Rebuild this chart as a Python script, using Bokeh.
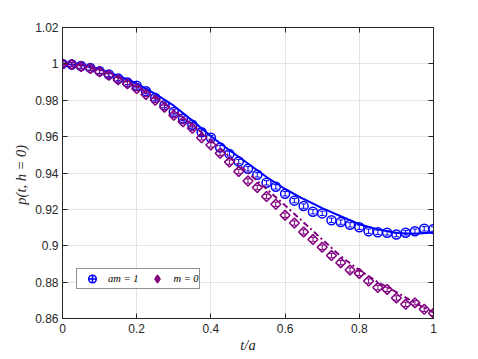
import math
from bokeh.plotting import figure
from bokeh.models import (ColumnDataSource, Range1d, LinearAxis, FixedTicker,
                          CustomJSTickFormatter, Legend, LegendItem)
from bokeh.embed import file_html
from bokeh.resources import INLINE

# ---- data -------------------------------------------------------------
t = [0.000, 0.025, 0.050, 0.075, 0.100, 0.125, 0.150, 0.175, 0.200, 0.225,
     0.250, 0.275, 0.300, 0.325, 0.350, 0.375, 0.400, 0.425, 0.450, 0.475,
     0.500, 0.525, 0.550, 0.575, 0.600, 0.625, 0.650, 0.675, 0.700, 0.725,
     0.750, 0.775, 0.800, 0.825, 0.850, 0.875, 0.900, 0.925, 0.950, 0.975,
     1.000]

p_am1 = [1.0000, 0.9997, 0.9988, 0.9978, 0.9960, 0.9942, 0.9920, 0.9898, 0.9880, 0.9850,
         0.9812, 0.9773, 0.9736, 0.9700, 0.9665, 0.9624, 0.9594, 0.9540, 0.9505, 0.9463,
         0.9423, 0.9390, 0.9346, 0.9324, 0.9286, 0.9248, 0.9218, 0.9187, 0.9178, 0.9140,
         0.9130, 0.9115, 0.9102, 0.9080, 0.9074, 0.9071, 0.9062, 0.9071, 0.9080, 0.9093,
         0.9092]

p_m0 = [1.0000, 0.9996, 0.9985, 0.9975, 0.9956, 0.9937, 0.9913, 0.9890, 0.9864, 0.9832,
        0.9800, 0.9762, 0.9718, 0.9682, 0.9646, 0.9594, 0.9554, 0.9509, 0.9460, 0.9408,
        0.9356, 0.9320, 0.9271, 0.9228, 0.9168, 0.9125, 0.9076, 0.9034, 0.8992, 0.8946,
        0.8907, 0.8867, 0.8848, 0.8806, 0.8770, 0.8760, 0.8713, 0.8678, 0.8686, 0.8651,
        0.8629]

err = 0.0012  # error bars are smaller than the markers

t_fit = [0.00, 0.05, 0.10, 0.15, 0.20, 0.25, 0.30, 0.35, 0.40, 0.45, 0.50,
         0.55, 0.60, 0.65, 0.70, 0.75, 0.80, 0.85, 0.90, 0.95, 1.00]
fit_am1 = [1.0000, 0.9993, 0.9970, 0.9935, 0.9892, 0.9835, 0.9770, 0.9688, 0.9602, 0.9525,
           0.9452, 0.9378, 0.9312, 0.9257, 0.9207, 0.9162, 0.9118, 0.9090, 0.9070, 0.9066,
           0.9073]
fit_m0 = [1.0000, 0.9992, 0.9965, 0.9925, 0.9875, 0.9815, 0.9745, 0.9665, 0.9580, 0.9490,
          0.9400, 0.9313, 0.9222, 0.9128, 0.9035, 0.8942, 0.8866, 0.8800, 0.8745, 0.8686,
          0.8633]

x_ticks = [0, 0.2, 0.4, 0.6, 0.8, 1]
y_ticks = [0.86, 0.88, 0.90, 0.92, 0.94, 0.96, 0.98, 1.00, 1.02]
x_labels = {0: "0", 0.2: "0.2", 0.4: "0.4", 0.6: "0.6", 0.8: "0.8", 1: "1"}
y_labels = {0.86: "0.86", 0.88: "0.88", 0.90: "0.9", 0.92: "0.92", 0.94: "0.94",
            0.96: "0.96", 0.98: "0.98", 1.00: "1", 1.02: "1.02"}

BLUE = "#0000ff"
PURPLE = "#800080"
AX = "#262626"

# ---- figure -----------------------------------------------------------
p = figure(width=470, height=355, x_range=Range1d(0, 1), y_range=Range1d(0.86, 1.02),
           output_backend="svg", toolbar_location=None,
           min_border_left=62, min_border_right=37, min_border_top=27, min_border_bottom=36)
p.background_fill_color = "white"
p.border_fill_color = "white"
p.outline_line_color = AX
p.outline_line_width = 1

for g in (p.xgrid[0], p.ygrid[0]):
    g.grid_line_color = "#e3e3e3"
    g.grid_line_width = 1
p.xgrid.ticker = FixedTicker(ticks=x_ticks)
p.ygrid.ticker = FixedTicker(ticks=y_ticks)

def style_axis(ax, ticks):
    ax.ticker = FixedTicker(ticks=ticks)
    ax.axis_line_color = AX
    ax.axis_line_width = 1
    ax.major_tick_line_color = AX
    ax.major_tick_in = 5
    ax.major_tick_out = 0
    ax.minor_tick_line_color = None
    ax.major_label_text_color = AX
    ax.major_label_text_font = "Liberation Sans"
    ax.major_label_text_font_size = "12px"
    ax.axis_label_text_font = "Liberation Serif"
    ax.axis_label_text_font_style = "italic"
    ax.axis_label_text_font_size = "14.5px"
    ax.axis_label_text_color = AX

xa = p.xaxis[0]
ya = p.yaxis[0]
style_axis(xa, x_ticks)
style_axis(ya, y_ticks)
xa.major_label_overrides = x_labels
ya.major_label_overrides = y_labels
xa.major_label_standoff = 5
ya.major_label_standoff = 4
xa.axis_label = "t/a"
ya.axis_label = "p(t,  h = 0)"
xa.axis_label_standoff = 1
ya.axis_label_standoff = 3

empty = CustomJSTickFormatter(code="return ''")
top = LinearAxis(formatter=empty)
right = LinearAxis(formatter=empty)
style_axis(top, x_ticks)
style_axis(right, y_ticks)
top.major_label_standoff = 0
right.major_label_standoff = 0
p.add_layout(top, "above")
p.add_layout(right, "right")

# ---- glyphs -----------------------------------------------------------
def series(vals, color, marker, size, angle, fit, dash, legend_marker):
    src = ColumnDataSource(dict(t=t, v=vals,
                                lo=[v - err for v in vals],
                                hi=[v + err for v in vals]))
    p.segment(x0="t", y0="lo", x1="t", y1="hi", source=src, line_color=color, line_width=1)
    p.scatter(x="t", y="lo", source=src, marker="dash", size=5, line_color=color, line_width=1)
    p.scatter(x="t", y="hi", source=src, marker="dash", size=5, line_color=color, line_width=1)
    p.scatter(x="t", y="v", source=src, marker=marker, size=size, angle=angle,
              line_color=color, line_width=1.5, fill_color=None)
    p.line(x=t_fit, y=fit, line_color=color, line_width=2, line_dash=dash)
    # legend-only marker glyph (not drawn in the plot: y is NaN)
    leg_src = ColumnDataSource(dict(t=t, v=[float("nan")] * len(t)))
    lg = p.scatter(x="t", y="v", source=leg_src, marker=legend_marker,
                   line_color=color, line_width=1.5, fill_color=None)
    return [lg]

r1 = series(p_am1, BLUE, "circle", 9, 0, fit_am1, "solid", "circle_cross")
r2 = series(p_m0, PURPLE, "square", 7, math.pi / 4, fit_m0, "6 3 2 3", "diamond_cross")

legend = Legend(items=[LegendItem(label="am = 1", renderers=r1),
                       LegendItem(label="m = 0", renderers=r2)],
                orientation="horizontal", location=(14, 29))
legend.border_line_color = AX
legend.border_line_width = 1
legend.background_fill_color = "white"
legend.background_fill_alpha = 1
legend.padding = 0
legend.margin = 0
legend.spacing = 4
legend.glyph_width = 30
legend.glyph_height = 19
legend.label_standoff = 1
legend.label_height = 10
legend.label_text_font = "Liberation Serif"
legend.label_text_font_style = "italic"
legend.label_text_font_size = "10.5px"
legend.label_text_color = "#000000"
p.add_layout(legend)

open("out.html", "w").write(file_html(p, INLINE))
